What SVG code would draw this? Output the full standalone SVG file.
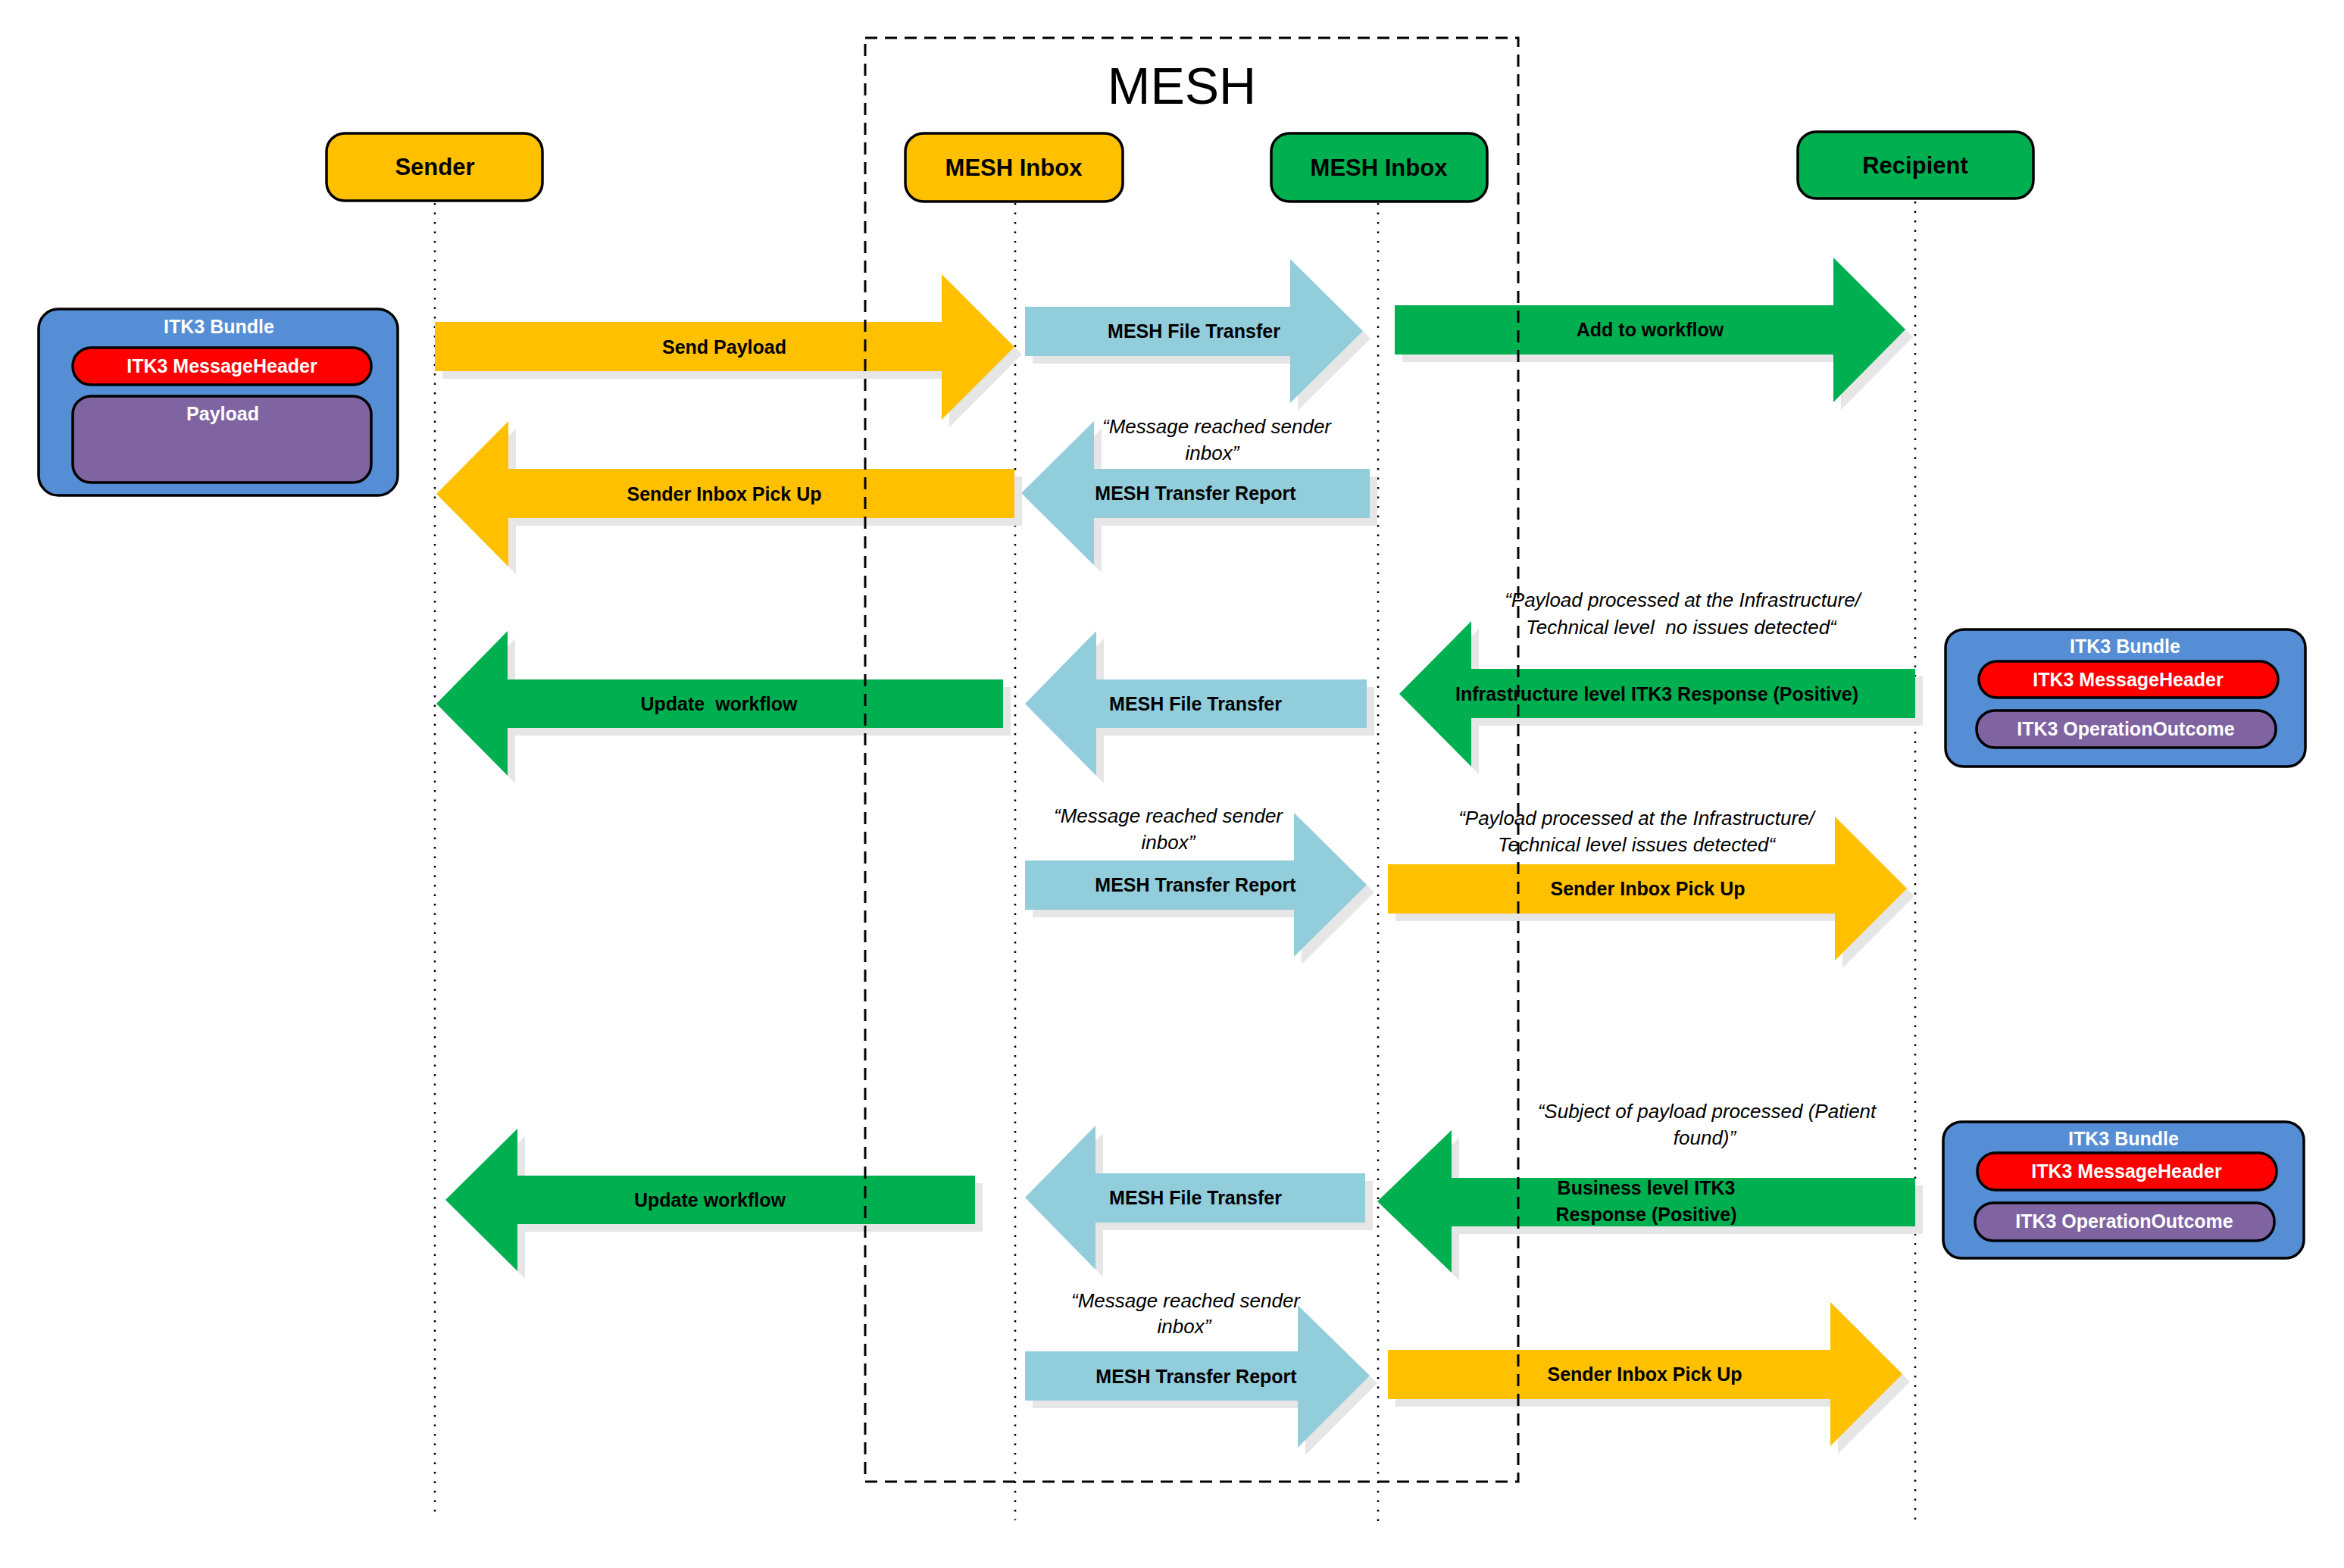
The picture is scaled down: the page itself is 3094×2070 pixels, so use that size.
<svg xmlns="http://www.w3.org/2000/svg" width="3094" height="2070" viewBox="0 0 3094 2070">
<style>
.bg{fill:#ffffff}
.node{stroke:#000;stroke-width:3.5}
.yel{fill:#FFC000}
.grn{fill:#00B050}
.blu{fill:#92CDDC}
.bund{fill:#558ED5;stroke:#000;stroke-width:3.5}
.red{fill:#FF0000;stroke:#000;stroke-width:3.5}
.pur{fill:#8064A2;stroke:#000;stroke-width:3.5}
.sh{fill:#E6E6E6}
.life{stroke:#000;stroke-width:2.5;stroke-dasharray:2.5 10;fill:none}
.mesh{stroke:#000;stroke-width:3;stroke-dasharray:16 10;fill:none}
.nt{font-family:"Liberation Sans",Arial,sans-serif;font-weight:bold;font-size:31px;text-anchor:middle;fill:#000}
.lb{font-family:"Liberation Sans",Arial,sans-serif;font-weight:bold;font-size:25px;text-anchor:middle;fill:#000}
.wt{font-family:"Liberation Sans",Arial,sans-serif;font-weight:bold;font-size:25px;text-anchor:middle;fill:#fff}
.it{font-family:"Liberation Sans",Arial,sans-serif;font-style:italic;font-size:26px;text-anchor:middle;fill:#000}
.title{font-family:"Liberation Sans",Arial,sans-serif;font-size:68px;text-anchor:middle;fill:#000}
</style>
<rect class="bg" x="0" y="0" width="3094" height="2070"/>

<g id="lifelines">
<line class="life" x1="574" y1="268" x2="574" y2="2003"/>
<line class="life" x1="1340" y1="268" x2="1340" y2="2007"/>
<line class="life" x1="1819" y1="268" x2="1819" y2="2012"/>
<line class="life" x1="2528" y1="266" x2="2528" y2="2012"/>
</g>

<g id="node-sender">
<rect class="node yel" x="431" y="176" width="285" height="89" rx="24"/>
<text class="nt" x="574" y="231">Sender</text>
</g>
<g id="node-mesh-inbox-sender">
<rect class="node yel" x="1195" y="176" width="287" height="90" rx="24"/>
<text class="nt" x="1338" y="232">MESH Inbox</text>
</g>
<g id="node-mesh-inbox-recipient">
<rect class="node grn" x="1678" y="176" width="285" height="90" rx="24"/>
<text class="nt" x="1820" y="232">MESH Inbox</text>
</g>
<g id="node-recipient">
<rect class="node grn" x="2373" y="174" width="311" height="88" rx="24"/>
<text class="nt" x="2528" y="229">Recipient</text>
</g>

<g id="node-bundle-payload">
<rect class="bund" x="51" y="408" width="474" height="246" rx="26"/>
<text class="wt" x="289" y="440">ITK3 Bundle</text>
<rect class="red" x="96" y="459" width="394" height="49" rx="24"/>
<text class="wt" x="293" y="492">ITK3 MessageHeader</text>
<rect class="pur" x="96" y="523" width="394" height="114" rx="24"/>
<text class="wt" x="294" y="555">Payload</text>
</g>
<g id="node-bundle-infra">
<rect class="bund" x="2568" y="831" width="475" height="181" rx="24"/>
<text class="wt" x="2805" y="862">ITK3 Bundle</text>
<rect class="red" x="2612" y="873" width="395" height="48" rx="24"/>
<text class="wt" x="2809" y="906">ITK3 MessageHeader</text>
<rect class="pur" x="2609" y="938" width="395" height="49" rx="24"/>
<text class="wt" x="2806" y="971">ITK3 OperationOutcome</text>
</g>
<g id="node-bundle-business">
<rect class="bund" x="2565" y="1481" width="476" height="180" rx="24"/>
<text class="wt" x="2803" y="1512">ITK3 Bundle</text>
<rect class="red" x="2610" y="1522" width="395" height="49" rx="24"/>
<text class="wt" x="2807" y="1555">ITK3 MessageHeader</text>
<rect class="pur" x="2607" y="1588" width="395" height="50" rx="24"/>
<text class="wt" x="2804" y="1621">ITK3 OperationOutcome</text>
</g>

<g id="connectors">
<g id="a-send-payload">
<polygon class="sh" transform="translate(10,10)" points="574,425 1243,425 1243,362 1339,458 1243,554 1243,490 574,490"/>
<polygon class="yel" points="574,425 1243,425 1243,362 1339,458 1243,554 1243,490 574,490"/>
<text class="lb" x="956" y="467">Send Payload</text>
</g>
<g id="a-mesh-file-transfer-1">
<polygon class="sh" transform="translate(10,10)" points="1353,405 1703,405 1703,342 1799,437 1703,532 1703,470 1353,470"/>
<polygon class="blu" points="1353,405 1703,405 1703,342 1799,437 1703,532 1703,470 1353,470"/>
<text class="lb" x="1576" y="446">MESH File Transfer</text>
</g>
<g id="a-add-to-workflow">
<polygon class="sh" transform="translate(10,10)" points="1841,403 2420,403 2420,340 2515,435 2420,531 2420,468 1841,468"/>
<polygon class="grn" points="1841,403 2420,403 2420,340 2515,435 2420,531 2420,468 1841,468"/>
<text class="lb" x="2178" y="444">Add to workflow</text>
</g>
<g id="a-sender-inbox-pickup-1">
<polygon class="sh" transform="translate(10,10)" points="576,652 671,556 671,619 1339,619 1339,684 671,684 671,748"/>
<polygon class="yel" points="576,652 671,556 671,619 1339,619 1339,684 671,684 671,748"/>
<text class="lb" x="956" y="661">Sender Inbox Pick Up</text>
</g>
<g id="a-mesh-transfer-report-1">
<polygon class="sh" transform="translate(10,10)" points="1348,651 1444,556 1444,619 1808,619 1808,684 1444,684 1444,746"/>
<polygon class="blu" points="1348,651 1444,556 1444,619 1808,619 1808,684 1444,684 1444,746"/>
<text class="lb" x="1578" y="660">MESH Transfer Report</text>
<text class="it" x="1606" y="572">“Message reached sender</text>
<text class="it" x="1600" y="607">inbox”</text>
</g>
<g id="a-update-workflow-1">
<polygon class="sh" transform="translate(10,10)" points="576,929 670,833 670,897 1324,897 1324,961 670,961 670,1024"/>
<polygon class="grn" points="576,929 670,833 670,897 1324,897 1324,961 670,961 670,1024"/>
<text class="lb" x="949" y="938" xml:space="preserve">Update  workflow</text>
</g>
<g id="a-mesh-file-transfer-2">
<polygon class="sh" transform="translate(10,10)" points="1353,929 1447,833 1447,897 1804,897 1804,961 1447,961 1447,1024"/>
<polygon class="blu" points="1353,929 1447,833 1447,897 1804,897 1804,961 1447,961 1447,1024"/>
<text class="lb" x="1578" y="938">MESH File Transfer</text>
</g>
<g id="a-infra-response">
<polygon class="sh" transform="translate(10,10)" points="1847,916 1942,820 1942,883 2528,883 2528,948 1942,948 1942,1012"/>
<polygon class="grn" points="1847,916 1942,820 1942,883 2528,883 2528,948 1942,948 1942,1012"/>
<text class="lb" x="2187" y="925">Infrastructure level ITK3 Response (Positive)</text>
<text class="it" x="2221" y="801">“Payload processed at the Infrastructure/</text>
<text class="it" x="2219" y="837" xml:space="preserve">Technical level  no issues detected“</text>
</g>
<g id="a-mesh-transfer-report-2">
<polygon class="sh" transform="translate(10,10)" points="1353,1136 1708,1136 1708,1073 1804,1168 1708,1263 1708,1201 1353,1201"/>
<polygon class="blu" points="1353,1136 1708,1136 1708,1073 1804,1168 1708,1263 1708,1201 1353,1201"/>
<text class="lb" x="1578" y="1177">MESH Transfer Report</text>
<text class="it" x="1542" y="1086">“Message reached sender</text>
<text class="it" x="1542" y="1121">inbox”</text>
</g>
<g id="a-sender-inbox-pickup-2">
<polygon class="sh" transform="translate(10,10)" points="1832,1141 2422,1141 2422,1078 2517,1173 2422,1268 2422,1206 1832,1206"/>
<polygon class="yel" points="1832,1141 2422,1141 2422,1078 2517,1173 2422,1268 2422,1206 1832,1206"/>
<text class="lb" x="2175" y="1182">Sender Inbox Pick Up</text>
<text class="it" x="2160" y="1089">“Payload processed at the Infrastructure/</text>
<text class="it" x="2160" y="1124">Technical level issues detected“</text>
</g>
<g id="a-update-workflow-2">
<polygon class="sh" transform="translate(10,10)" points="588,1584 683,1490 683,1552 1287,1552 1287,1616 683,1616 683,1678"/>
<polygon class="grn" points="588,1584 683,1490 683,1552 1287,1552 1287,1616 683,1616 683,1678"/>
<text class="lb" x="937" y="1593">Update workflow</text>
</g>
<g id="a-mesh-file-transfer-3">
<polygon class="sh" transform="translate(10,10)" points="1353,1581 1446,1486 1446,1549 1802,1549 1802,1614 1446,1614 1446,1676"/>
<polygon class="blu" points="1353,1581 1446,1486 1446,1549 1802,1549 1802,1614 1446,1614 1446,1676"/>
<text class="lb" x="1578" y="1590">MESH File Transfer</text>
</g>
<g id="a-business-response">
<polygon class="sh" transform="translate(10,10)" points="1818,1586 1916,1492 1916,1555 2528,1555 2528,1619 1916,1619 1916,1680"/>
<polygon class="grn" points="1818,1586 1916,1492 1916,1555 2528,1555 2528,1619 1916,1619 1916,1680"/>
<text class="lb" x="2173" y="1577">Business level ITK3</text>
<text class="lb" x="2173" y="1612">Response (Positive)</text>
<text class="it" x="2253" y="1476">“Subject of payload processed (Patient</text>
<text class="it" x="2250" y="1511">found)”</text>
</g>
<g id="a-mesh-transfer-report-3">
<polygon class="sh" transform="translate(10,10)" points="1353,1784 1713,1784 1713,1723 1808,1816 1713,1911 1713,1849 1353,1849"/>
<polygon class="blu" points="1353,1784 1713,1784 1713,1723 1808,1816 1713,1911 1713,1849 1353,1849"/>
<text class="lb" x="1579" y="1826">MESH Transfer Report</text>
<text class="it" x="1565" y="1726">“Message reached sender</text>
<text class="it" x="1563" y="1760">inbox”</text>
</g>
<g id="a-sender-inbox-pickup-3">
<polygon class="sh" transform="translate(10,10)" points="1832,1782 2416,1782 2416,1719 2511,1814 2416,1909 2416,1847 1832,1847"/>
<polygon class="yel" points="1832,1782 2416,1782 2416,1719 2511,1814 2416,1909 2416,1847 1832,1847"/>
<text class="lb" x="2171" y="1823">Sender Inbox Pick Up</text>
</g>
</g>

<g id="group-mesh">
<rect class="mesh" x="1142" y="50" width="862" height="1906"/>
<text class="title" x="1560" y="137">MESH</text>
</g>
</svg>
